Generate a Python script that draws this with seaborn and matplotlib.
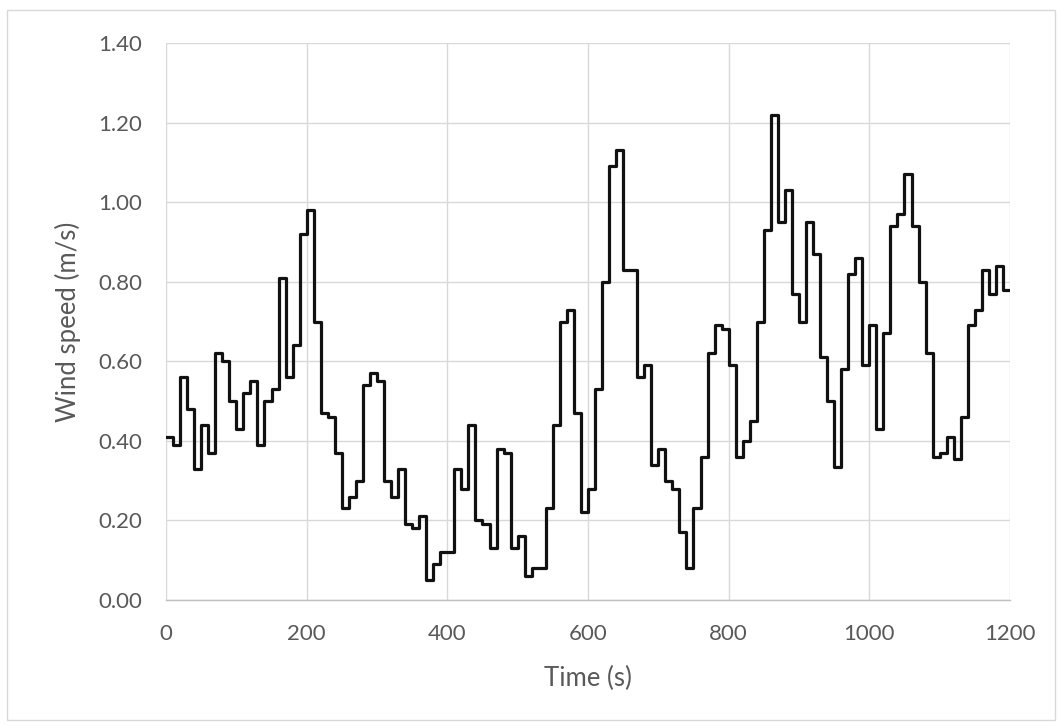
import numpy as np
import pandas as pd
import matplotlib
matplotlib.use("Agg")
import matplotlib.pyplot as plt
from matplotlib.patches import Rectangle
import seaborn as sns

# Wind speed held constant over each 10 s interval
interval_s = 10
wind_speed = [
    0.41, 0.39, 0.56, 0.48, 0.33, 0.44, 0.37, 0.62, 0.60, 0.50,
    0.43, 0.52, 0.55, 0.39, 0.50, 0.53, 0.81, 0.56, 0.64, 0.92,
    0.98, 0.70, 0.47, 0.46, 0.37, 0.23, 0.26, 0.30, 0.54, 0.57,
    0.55, 0.30, 0.26, 0.33, 0.19, 0.18, 0.21, 0.05, 0.09, 0.12,
    0.12, 0.33, 0.28, 0.44, 0.20, 0.19, 0.13, 0.38, 0.37, 0.13,
    0.16, 0.06, 0.08, 0.08, 0.23, 0.44, 0.70, 0.73, 0.47, 0.22,
    0.28, 0.53, 0.80, 1.09, 1.13, 0.83, 0.83, 0.56, 0.59, 0.34,
    0.38, 0.30, 0.28, 0.17, 0.08, 0.23, 0.36, 0.62, 0.69, 0.68,
    0.59, 0.36, 0.40, 0.45, 0.70, 0.93, 1.22, 0.95, 1.03, 0.77,
    0.70, 0.95, 0.87, 0.61, 0.50, 0.335, 0.58, 0.82, 0.86, 0.59,
    0.69, 0.43, 0.67, 0.94, 0.97, 1.07, 0.94, 0.80, 0.62, 0.36,
    0.37, 0.41, 0.355, 0.46, 0.69, 0.73, 0.83, 0.77, 0.84, 0.78,
]
x_ticks = [0, 200, 400, 600, 800, 1000, 1200]
y_ticks = [0.00, 0.20, 0.40, 0.60, 0.80, 1.00, 1.20, 1.40]

# Step edges: each value starts at its interval start; repeat last to close at 1200 s
time_s = [i * interval_s for i in range(len(wind_speed) + 1)]
df = pd.DataFrame({"Time (s)": time_s, "Wind speed (m/s)": wind_speed + [wind_speed[-1]]})

sns.set_theme(style="white")
plt.rcParams["font.family"] = ["Lato", "DejaVu Sans"]

W, H = 1062, 727
fig = plt.figure(figsize=(W / 100, H / 100), dpi=100)
fig.patch.set_facecolor("white")
ax = fig.add_axes([166 / W, 1 - 600 / H, (1010 - 166) / W, (600 - 43) / H])

grid_c = "#D9D9D9"
text_c = "#595959"

sns.lineplot(data=df, x="Time (s)", y="Wind speed (m/s)", ax=ax,
             drawstyle="steps-post", color="#111111", linewidth=2.3)

ax.set_xlim(0, 1200)
ax.set_ylim(0, 1.4)
ax.set_xticks(x_ticks)
ax.set_yticks(y_ticks)
ax.set_yticklabels([f"{v:.2f}" for v in y_ticks])
ax.grid(True, color=grid_c, linewidth=1.0)
ax.set_axisbelow(True)
for side in ["top", "right", "left"]:
    ax.spines[side].set_visible(False)
ax.spines["bottom"].set_color("#BFBFBF")
ax.spines["bottom"].set_linewidth(1.0)

ax.tick_params(axis="both", length=0, labelsize=16, labelcolor=text_c)
ax.tick_params(axis="y", pad=17)
ax.tick_params(axis="x", pad=17)

ax.set_xlabel("Time (s)", fontsize=18.5, color=text_c)
ax.set_ylabel("Wind speed (m/s)", fontsize=18.5, color=text_c)
ax.xaxis.label.set_va("center")
ax.yaxis.label.set_va("center")
ax.xaxis.set_label_coords(0.5, (600 - 678) / 557)
ax.yaxis.set_label_coords((68 - 166) / 844, 0.5)

# Light chart-area frame
fig.patches.append(Rectangle((7 / W, 1 - 720 / H), (1055 - 7) / W, (720 - 10) / H,
                             transform=fig.transFigure, fill=False,
                             edgecolor=grid_c, linewidth=1.0))

fig.savefig("out.png", dpi=100, facecolor="white")
